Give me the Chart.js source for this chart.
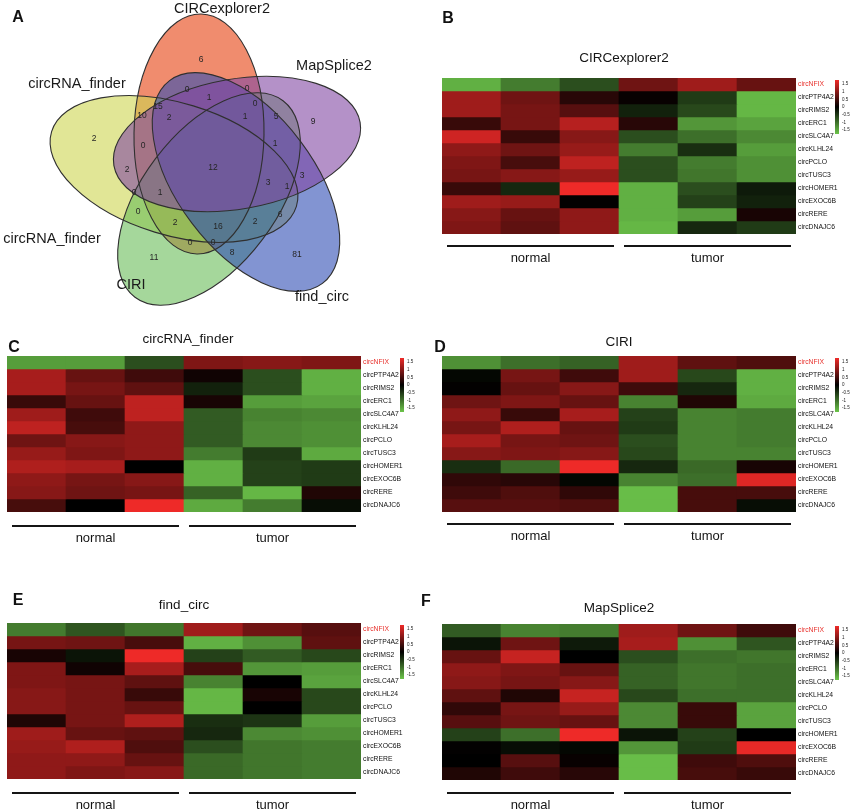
<!DOCTYPE html>
<html>
<head>
<meta charset="utf-8">
<script src="https://cdn.jsdelivr.net/npm/chart.js@4.4.1/dist/chart.umd.min.js"></script>
<style>
  body { margin: 0; background: #fff; }
  #page { position: relative; width: 850px; height: 811px; overflow: hidden; font-family: Arial, "Liberation Sans", Helvetica, sans-serif; }
  canvas { position: absolute; }
  .tag { position: absolute; font-weight: bold; font-size: 16px; color: #111; transform: translate(-50%, -50%); }
</style>
</head>
<body>
<div id="page">
  <canvas id="venn" width="420" height="310" style="left:0;top:0"></canvas>
  <canvas id="heatB" width="430" height="250" style="left:420px;top:30px"></canvas>
  <canvas id="heatC" width="420" height="240" style="left:0;top:320px"></canvas>
  <canvas id="heatD" width="430" height="240" style="left:420px;top:320px"></canvas>
  <canvas id="heatE" width="420" height="236" style="left:0;top:575px"></canvas>
  <canvas id="heatF" width="430" height="236" style="left:420px;top:575px"></canvas>
  <div class="tag" style="left:18px;top:17px">A</div>
  <div class="tag" style="left:448px;top:18px">B</div>
  <div class="tag" style="left:14px;top:347px">C</div>
  <div class="tag" style="left:440px;top:347px">D</div>
  <div class="tag" style="left:18px;top:600px">E</div>
  <div class="tag" style="left:426px;top:601px">F</div>
</div>
<script>
// ---- Venn data ----
const vennNames = ['CIRCexplorer2', 'MapSplice2', 'circRNA_finder', 'circRNA_finder', 'CIRI', 'find_circ'];
const vennCounts = [6, 0, 1, 0, 15, 10, 2, 1, 0, 5, 9, 2, 0, 1, 12, 2, 3, 3, 1, 0, 1, 0, 6, 2, 16, 2, 0, 0, 8, 11, 81];

// ---- Heatmap data ----
const genes = ['circNFIX', 'circPTP4A2', 'circRIMS2', 'circERC1', 'circSLC4A7', 'circKLHL24',
  'circPCLO', 'circTUSC3', 'circHOMER1', 'circEXOC6B', 'circRERE', 'circDNAJC6'];
const samples = ['N1', 'N2', 'N3', 'T1', 'T2', 'T3'];
const groupNames = ['normal', 'tumor'];
const groupSpans = [[0, 2], [3, 5]];
const keyTicks = [1.5, 1, 0.5, 0, -0.5, -1, -1.5];

const circExplorer2Vals = [
  [-1.35, -0.95, -0.6, 0.7, 1.0, 0.65],
  [1.0, 0.7, 0.25, 0.05, -0.45, -1.4],
  [1.0, 0.75, 0.55, -0.25, -0.55, -1.4],
  [0.35, 0.75, 1.15, 0.25, -1.15, -1.25],
  [1.3, 0.35, 0.85, -0.6, -0.85, -1.05],
  [0.9, 0.7, 0.95, -0.95, -0.35, -1.2],
  [0.8, 0.45, 1.2, -0.6, -0.95, -1.1],
  [0.75, 0.85, 0.95, -0.6, -0.9, -1.1],
  [0.35, -0.3, 1.5, -1.35, -0.6, -0.2],
  [1.0, 0.95, 0.02, -1.35, -0.5, -0.25],
  [0.85, 0.65, 0.9, -1.35, -1.2, 0.15],
  [0.8, 0.6, 0.9, -1.4, -0.3, -0.45]
];
const circRnaFinderVals = [
  [-1.2, -1.2, -0.6, 0.8, 0.85, 0.8],
  [1.05, 0.65, 0.4, 0.1, -0.6, -1.35],
  [1.05, 0.75, 0.6, -0.25, -0.6, -1.35],
  [0.35, 0.65, 1.2, 0.15, -1.2, -1.25],
  [1.0, 0.4, 1.2, -0.7, -1.0, -1.05],
  [1.2, 0.45, 0.9, -0.7, -1.05, -1.1],
  [0.7, 0.85, 0.9, -0.7, -1.05, -1.1],
  [0.95, 0.8, 0.9, -0.95, -0.45, -1.3],
  [1.1, 1.05, 0.0, -1.35, -0.5, -0.45],
  [0.9, 0.75, 0.85, -1.35, -0.5, -0.45],
  [0.85, 0.7, 0.75, -0.75, -1.4, 0.2],
  [0.45, 0.0, 1.5, -1.3, -0.95, -0.1]
];
const ciriVals = [
  [-1.1, -0.85, -0.75, 1.0, 0.6, 0.5],
  [-0.05, 0.75, 0.4, 1.0, -0.55, -1.35],
  [0.02, 0.65, 0.85, 0.4, -0.3, -1.35],
  [0.7, 0.8, 0.65, -1.0, 0.2, -1.3],
  [0.9, 0.35, 1.05, -0.5, -1.0, -0.95],
  [0.75, 1.1, 0.65, -0.45, -1.0, -0.95],
  [1.05, 0.75, 0.7, -0.6, -1.0, -0.95],
  [0.85, 0.8, 0.85, -0.55, -1.0, -1.0],
  [-0.35, -0.8, 1.5, -0.3, -0.8, 0.15],
  [0.3, 0.25, -0.05, -1.0, -0.85, 1.4],
  [0.4, 0.5, 0.3, -1.45, 0.45, 0.45],
  [0.55, 0.55, 0.5, -1.45, 0.45, -0.1]
];
const findCircVals = [
  [-0.95, -0.65, -0.9, 1.0, 0.7, 0.55],
  [0.75, 0.7, 0.45, -1.35, -1.1, 0.6],
  [0.15, -0.15, 1.5, -0.5, -0.7, -0.55],
  [0.8, 0.1, 1.05, 0.45, -1.15, -1.2],
  [0.8, 0.75, 0.6, -1.0, 0.0, -1.25],
  [0.85, 0.75, 0.35, -1.4, 0.15, -0.55],
  [0.85, 0.75, 0.65, -1.4, 0.0, -0.55],
  [0.2, 0.75, 1.1, -0.35, -0.4, -1.2],
  [1.0, 0.65, 0.6, -0.3, -1.05, -1.1],
  [0.95, 1.1, 0.5, -0.6, -0.9, -0.95],
  [0.9, 0.9, 0.65, -0.8, -0.9, -0.95],
  [0.9, 0.8, 0.85, -0.8, -0.9, -0.95]
];
const mapSplice2Vals = [
  [-0.7, -1.0, -0.95, 1.0, 0.7, 0.4],
  [-0.15, 0.7, -0.2, 1.05, -1.1, -0.65],
  [0.65, 1.25, 0.0, -0.6, -0.85, -0.9],
  [0.9, 0.8, 0.65, -0.75, -0.9, -0.85],
  [0.85, 0.75, 0.85, -0.75, -0.9, -0.85],
  [0.6, 0.2, 1.25, -0.55, -0.85, -0.85],
  [0.3, 0.75, 0.95, -1.05, 0.35, -1.25],
  [0.55, 0.7, 0.65, -1.05, 0.35, -1.25],
  [-0.5, -0.85, 1.5, -0.15, -0.5, 0.0],
  [0.02, -0.1, -0.05, -1.15, -0.45, 1.45],
  [0.0, 0.55, 0.05, -1.45, 0.4, 0.5],
  [0.2, 0.4, 0.25, -1.45, 0.45, 0.35]
];

// ---- Venn layout (image pixel space) ----
const vennShapes = [
  { cx: 199, cy: 134, a: 120, b: 65, rot: 91, fill: 'rgba(230,63,13,0.6)' },    // CIRCexplorer2
  { cx: 174, cy: 169, a: 128, b: 66, rot: 17, fill: 'rgba(205,213,80,0.6)' },   // circRNA_finder
  { cx: 209, cy: 199, a: 123, b: 67, rot: 127, fill: 'rgba(105,188,88,0.6)' },  // CIRI
  { cx: 246, cy: 182, a: 127, b: 68, rot: 53, fill: 'rgba(47,77,180,0.6)' },    // find_circ
  { cx: 237, cy: 144, a: 125, b: 65, rot: -10, fill: 'rgba(130,72,163,0.6)' }   // MapSplice2
];
const vennCountPos = [
  [201, 60], [187, 90], [209, 98], [247, 89], [158, 107], [142, 116], [169, 118], [245, 117],
  [255, 104], [276, 117], [313, 122], [94, 139], [143, 146], [275, 144], [213, 168], [127, 170],
  [302, 176], [268, 183], [287, 187], [134, 193], [160, 193], [138, 212], [280, 215], [175, 223],
  [218, 227], [255, 222], [190, 243], [213, 243], [232, 253], [154, 258], [297, 255]
];
const vennNamePos = [[222, 9], [334, 66], [77, 84], [52, 239], [131, 285], [322, 297]];

const FONT = 'Arial, "Liberation Sans", Helvetica, sans-serif';
Chart.defaults.font.family = FONT;
Chart.defaults.animation = false;

const vennPlugin = {
  id: 'vennShapes',
  beforeDatasetsDraw(chart) {
    const { ctx, scales: { x, y } } = chart;
    const k = x.getPixelForValue(1) - x.getPixelForValue(0);
    const path = s => {
      ctx.beginPath();
      ctx.ellipse(x.getPixelForValue(s.cx), y.getPixelForValue(s.cy), s.a * k, s.b * k, s.rot * Math.PI / 180, 0, 2 * Math.PI);
    };
    ctx.save();
    vennShapes.forEach(s => {
      path(s);
      ctx.fillStyle = s.fill;
      ctx.fill();
    });
    ctx.strokeStyle = '#303030';
    ctx.lineWidth = 1.1;
    vennShapes.forEach(s => {
      path(s);
      ctx.stroke();
    });
    ctx.restore();
  },
  afterDatasetsDraw(chart) {
    const { ctx, scales: { x, y } } = chart;
    const pts = chart.getDatasetMeta(0).data;
    ctx.save();
    ctx.textAlign = 'center';
    ctx.textBaseline = 'middle';
    ctx.fillStyle = '#262626';
    ctx.font = '8.5px ' + FONT;
    pts.forEach((p, i) => ctx.fillText(String(vennCounts[i]), p.x, p.y));
    ctx.fillStyle = '#1a1a1a';
    ctx.font = '14.5px ' + FONT;
    vennNames.forEach((n, i) => ctx.fillText(n, x.getPixelForValue(vennNamePos[i][0]), y.getPixelForValue(vennNamePos[i][1])));
    ctx.restore();
  }
};

new Chart(document.getElementById('venn'), {
  type: 'scatter',
  data: {
    datasets: [{
      data: vennCountPos.map(p => ({ x: p[0], y: p[1] })),
      pointRadius: 0
    }]
  },
  options: {
    responsive: false,
    events: [],
    layout: { padding: 0 },
    plugins: { legend: { display: false }, tooltip: { enabled: false } },
    scales: {
      x: { type: 'linear', min: 0, max: 420, display: false },
      y: { type: 'linear', min: 0, max: 310, reverse: true, display: false }
    }
  },
  plugins: [vennPlugin]
});

// ---- Heatmaps ----
function heatColor(v) {
  const t = Math.min(Math.abs(v) / 1.5, 1);
  if (v >= 0) return `rgb(${Math.round(238 * t)},${Math.round(42 * t)},${Math.round(40 * t)})`;
  return `rgb(${Math.round(108 * t)},${Math.round(196 * t)},${Math.round(74 * t)})`;
}

const heatDecor = {
  id: 'heatDecor',
  afterDraw(chart, args, opts) {
    const { ctx, chartArea: a, scales: { x } } = chart;
    ctx.save();
    ctx.fillStyle = '#151515';
    ctx.textAlign = 'center';
    ctx.textBaseline = 'middle';
    ctx.font = '13.5px ' + FONT;
    ctx.fillText(opts.title, (a.left + a.right) / 2 + (opts.titleDx || 0), a.top - opts.titleGap);

    // group bars under the columns
    const half = (x.getPixelForValue(1) - x.getPixelForValue(0)) / 2;
    ctx.font = '13px ' + FONT;
    groupSpans.forEach((sp, i) => {
      const x0 = x.getPixelForValue(sp[0]) - half + 5;
      const x1 = x.getPixelForValue(sp[1]) + half - 5;
      ctx.fillRect(x0, a.bottom + opts.lineGap, x1 - x0, 2);
      ctx.fillText(groupNames[i], (x0 + x1) / 2, a.bottom + opts.lineGap + 13);
    });

    // colour key
    const kx = a.right + 39, ky = a.top + 2, kw = 4, kh = 54;
    const grad = ctx.createLinearGradient(0, ky, 0, ky + kh);
    keyTicks.forEach(v => grad.addColorStop((1.5 - v) / 3, heatColor(v)));
    ctx.fillStyle = grad;
    ctx.fillRect(kx, ky, kw, kh);
    ctx.fillStyle = '#222';
    ctx.textAlign = 'left';
    ctx.font = '4.5px ' + FONT;
    keyTicks.forEach(v => {
      const ty = ky + 4 + (1.5 - v) / 3 * (kh - 8);
      ctx.fillText(String(v), kx + kw + 3, ty);
    });
    ctx.restore();
  }
};

function makeHeatmap(id, title, values, pad, axisW, titleGap, lineGap, titleDx) {
  new Chart(document.getElementById(id), {
    type: 'bar',
    data: {
      labels: samples,
      datasets: genes.map((g, r) => ({
        label: g,
        data: values[r].map(() => [r, r + 1]),
        backgroundColor: values[r].map(heatColor),
        borderWidth: 0,
        barPercentage: 1,
        categoryPercentage: 1,
        grouped: false
      }))
    },
    options: {
      responsive: false,
      events: [],
      layout: { padding: pad },
      plugins: {
        legend: { display: false },
        tooltip: { enabled: false },
        heatDecor: { title: title, titleGap: titleGap, lineGap: lineGap, titleDx: titleDx }
      },
      scales: {
        x: { display: false },
        y: {
          type: 'linear',
          position: 'right',
          min: 0,
          max: genes.length,
          reverse: true,
          grid: { display: false, drawTicks: false },
          border: { display: false },
          afterBuildTicks: s => { s.ticks = genes.map((g, i) => ({ value: i + 0.5 })); },
          afterFit: s => { s.width = axisW; },
          ticks: {
            autoSkip: false,
            padding: 2,
            font: { size: 6.8 },
            color: c => (c.index === 0 ? '#e8312c' : '#111'),
            callback: (v, i) => genes[i]
          }
        }
      }
    },
    plugins: [heatDecor]
  });
}

makeHeatmap('heatB', 'CIRCexplorer2', circExplorer2Vals, { left: 22, top: 48, right: 0, bottom: 46 }, 54, 20, 11, 5);
makeHeatmap('heatC', 'circRNA_finder', circRnaFinderVals, { left: 7, top: 36, right: 0, bottom: 48 }, 59, 17, 13, 4);
makeHeatmap('heatD', 'CIRI', ciriVals, { left: 22, top: 36, right: 0, bottom: 48 }, 54, 14, 11, 0);
makeHeatmap('heatE', 'find_circ', findCircVals, { left: 7, top: 48, right: 0, bottom: 32 }, 59, 18, 13, 0);
makeHeatmap('heatF', 'MapSplice2', mapSplice2Vals, { left: 22, top: 49, right: 0, bottom: 31 }, 54, 16, 12, 0);
</script>
</body>
</html>
